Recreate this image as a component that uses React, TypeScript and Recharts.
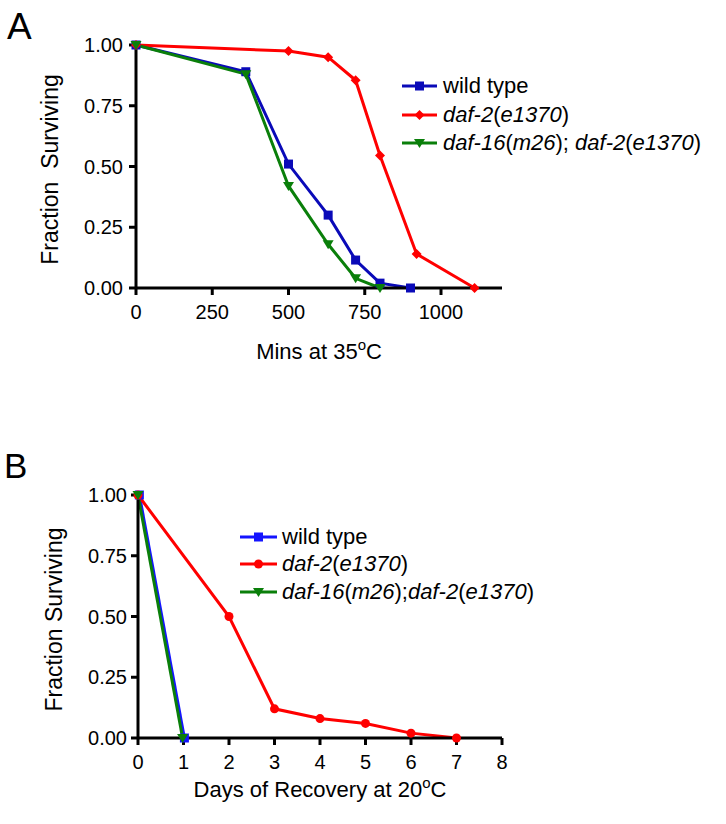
import React from "react"
import { Legend, Line, LineChart, XAxis, YAxis } from "recharts"

const FONT = "'Liberation Sans', Arial, Helvetica, sans-serif"

// panel A - survival at 35C (minutes)
const minsWild = [0, 360, 500, 630, 720, 800, 900]
const survWild = [1, 0.89, 0.51, 0.3, 0.115, 0.02, 0]
const minsDaf2 = [0, 500, 630, 720, 800, 920, 1110]
const survDaf2 = [1, 0.975, 0.95, 0.855, 0.545, 0.14, 0]
const minsDaf16 = [0, 360, 500, 630, 720, 800]
const survDaf16 = [1, 0.88, 0.42, 0.18, 0.04, 0]
const minsTicks = [0, 250, 500, 750, 1000]

// panel B - recovery at 20C (days)
const daysWild = [0.03, 1.02]
const recWild = [1, 0]
const daysDaf2 = [0, 2, 3, 4, 5, 6, 7]
const recDaf2 = [1, 0.5, 0.12, 0.08, 0.06, 0.02, 0]
const daysDaf16 = [0, 0.98]
const recDaf16 = [1, 0]
const daysTicks = [0, 1, 2, 3, 4, 5, 6, 7, 8]

const fracTicks = [0, 0.25, 0.5, 0.75, 1]

const toPoints = (xs: number[], ys: number[]) => xs.map((x, i) => ({ x, y: ys[i] }))

const BLUE_A = "#0a0ab8"
const BLUE_B = "#1414ff"
const RED = "#ff0000"
const GREEN = "#0a7f0a"

function Glyph({ cx, cy, shape, color }: any) {
  if (cx == null || cy == null) return null
  if (shape === "square") return <rect x={cx - 4.5} y={cy - 4.5} width={9} height={9} fill={color} />
  if (shape === "diamond")
    return <polygon points={`${cx},${cy - 5} ${cx + 5},${cy} ${cx},${cy + 5} ${cx - 5},${cy}`} fill={color} />
  if (shape === "triangle")
    return <polygon points={`${cx - 5.5},${cy - 4} ${cx + 5.5},${cy - 4} ${cx},${cy + 5}`} fill={color} />
  return <circle cx={cx} cy={cy} r={4.5} fill={color} />
}

const dotOf = (shape: string, color: string) => (p: any) =>
  <Glyph key={`d-${p.index}`} cx={p.cx} cy={p.cy} shape={shape} color={color} />

const daf2Label = (
  <>
    <i>daf-2</i>(<i>e1370</i>)
  </>
)

function LegendBox({ items, lineW, gap, rowH }: any) {
  return (
    <div style={{ fontFamily: FONT, fontSize: 22, color: "#000", lineHeight: 1 }}>
      {items.map((it: any) => (
        <div key={it.key} style={{ display: "flex", alignItems: "center", height: rowH, whiteSpace: "nowrap" }}>
          <svg width={lineW} height={14} style={{ marginRight: gap, overflow: "visible" }}>
            <line x1={0} y1={7} x2={lineW} y2={7} stroke={it.color} strokeWidth={3} />
            <Glyph cx={lineW / 2} cy={7} shape={it.shape} color={it.color} />
          </svg>
          <span>{it.label}</span>
        </div>
      ))}
    </div>
  )
}

const xTitle = (text: string, after: string, drop: number) => (props: any) => {
  const vb = props.viewBox
  const x = vb.x + vb.width / 2
  const y = vb.y + drop
  return (
    <text x={x} y={y} textAnchor="middle" fontSize={22} fill="#000" fontFamily={FONT}>
      {text}
      <tspan dy={-9} fontSize={15}>o</tspan>
      <tspan dy={9}>{after}</tspan>
    </text>
  )
}

const yTitle = (text: string, baseX: number) => (props: any) => {
  const vb = props.viewBox
  const cy = vb.y + vb.height / 2 + 3
  return (
    <text
      x={baseX}
      y={cy}
      transform={`rotate(-90 ${baseX} ${cy})`}
      textAnchor="middle"
      fontSize={23}
      fill="#000"
      fontFamily={FONT}
      style={{ whiteSpace: "pre" }}
    >
      {text}
    </text>
  )
}

const axisLine = { stroke: "#000", strokeWidth: 3 }
const tickStyle = { fontSize: 20, fill: "#000", fontFamily: FONT }

export default function App() {
  const legendA = [
    { key: "wt", label: "wild type", color: BLUE_A, shape: "square" },
    { key: "d2", label: daf2Label, color: RED, shape: "diamond" },
    {
      key: "d16",
      label: (
        <>
          <i>daf-16</i>(<i>m26</i>); <i>daf-2</i>(<i>e1370</i>)
        </>
      ),
      color: GREEN,
      shape: "triangle",
    },
  ]
  const legendB = [
    { key: "wt", label: "wild type", color: BLUE_B, shape: "square" },
    { key: "d2", label: daf2Label, color: RED, shape: "circle" },
    {
      key: "d16",
      label: (
        <>
          <i>daf-16</i>(<i>m26</i>);<i>daf-2</i>(<i>e1370</i>)
        </>
      ),
      color: GREEN,
      shape: "triangle",
    },
  ]

  return (
    <div style={{ position: "absolute", left: 0, top: 0, width: 726, height: 824, background: "#fff", fontFamily: FONT }}>
      <div style={{ position: "absolute", left: 0, top: 0 }}>
        <LineChart width={726} height={380} margin={{ top: 45, right: 224, bottom: 62, left: 56 }}>
          <XAxis
            dataKey="x"
            type="number"
            domain={[0, 1200]}
            ticks={minsTicks}
            interval={0}
            height={30}
            axisLine={axisLine}
            tickLine={axisLine}
            tickSize={7}
            tickMargin={10}
            tick={tickStyle}
            label={xTitle("Mins at 35", "C", 71)}
          />
          <YAxis
            type="number"
            domain={[0, 1]}
            ticks={fracTicks}
            interval={0}
            width={80}
            axisLine={axisLine}
            tickLine={axisLine}
            tickSize={7}
            tickMargin={6}
            tick={tickStyle}
            tickFormatter={(v: number) => v.toFixed(2)}
            label={yTitle("Fraction  Surviving", 58)}
          />
          <Legend
            layout="vertical"
            align="center"
            verticalAlign="middle"
            wrapperStyle={{ position: "absolute", left: 402, top: 72, width: "auto" }}
            content={() => <LegendBox items={legendA} lineW={35} gap={6} rowH={28.5} />}
          />
          <Line data={toPoints(minsWild, survWild)} dataKey="y" stroke={BLUE_A} strokeWidth={3} dot={dotOf("square", BLUE_A)} activeDot={false} isAnimationActive={false} />
          <Line data={toPoints(minsDaf2, survDaf2)} dataKey="y" stroke={RED} strokeWidth={3} dot={dotOf("diamond", RED)} activeDot={false} isAnimationActive={false} />
          <Line data={toPoints(minsDaf16, survDaf16)} dataKey="y" stroke={GREEN} strokeWidth={3} dot={dotOf("triangle", GREEN)} activeDot={false} isAnimationActive={false} />
        </LineChart>
      </div>

      <div style={{ position: "absolute", left: 0, top: 440 }}>
        <LineChart width={726} height={384} margin={{ top: 55, right: 224, bottom: 56, left: 58 }}>
          <XAxis
            dataKey="x"
            type="number"
            domain={[0, 8]}
            ticks={daysTicks}
            interval={0}
            height={30}
            axisLine={axisLine}
            tickLine={axisLine}
            tickSize={7}
            tickMargin={10}
            tick={tickStyle}
            label={xTitle("Days of Recovery at 20", "C", 59)}
          />
          <YAxis
            type="number"
            domain={[0, 1]}
            ticks={fracTicks}
            interval={0}
            width={80}
            axisLine={axisLine}
            tickLine={axisLine}
            tickSize={7}
            tickMargin={4}
            tick={tickStyle}
            tickFormatter={(v: number) => v.toFixed(2)}
            label={yTitle("Fraction Surviving", 62)}
          />
          <Legend
            layout="vertical"
            align="center"
            verticalAlign="middle"
            wrapperStyle={{ position: "absolute", left: 240, top: 83, width: "auto" }}
            content={() => <LegendBox items={legendB} lineW={37} gap={5} rowH={27.5} />}
          />
          <Line data={toPoints(daysWild, recWild)} dataKey="y" stroke={BLUE_B} strokeWidth={3} dot={dotOf("square", BLUE_B)} activeDot={false} isAnimationActive={false} />
          <Line data={toPoints(daysDaf2, recDaf2)} dataKey="y" stroke={RED} strokeWidth={3} dot={dotOf("circle", RED)} activeDot={false} isAnimationActive={false} />
          <Line data={toPoints(daysDaf16, recDaf16)} dataKey="y" stroke={GREEN} strokeWidth={3} dot={dotOf("triangle", GREEN)} activeDot={false} isAnimationActive={false} />
        </LineChart>
      </div>

      <svg width={726} height={824} style={{ position: "absolute", left: 0, top: 0, pointerEvents: "none" }}>
        <text x={7} y={39} fontSize={37} fontFamily={FONT} fill="#000">A</text>
        <text x={4} y={478} fontSize={35} fontFamily={FONT} fill="#000">B</text>
      </svg>
    </div>
  )
}
